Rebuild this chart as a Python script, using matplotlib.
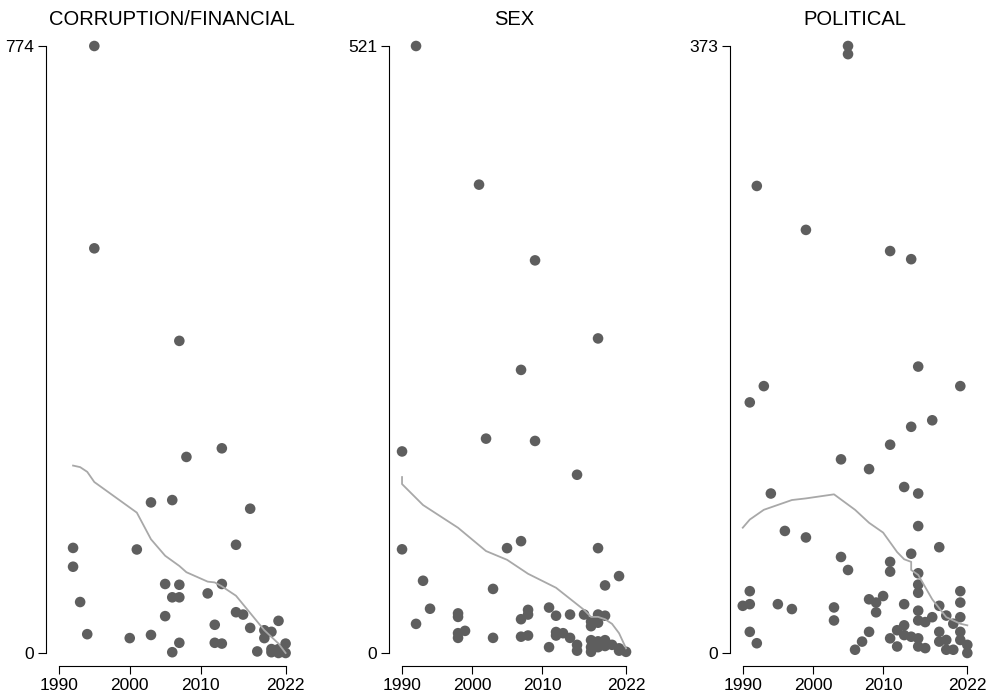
import numpy as np
import matplotlib
matplotlib.use("Agg")
from matplotlib import pyplot as plt

plt.rcParams['font.family'] = ['Liberation Sans', 'DejaVu Sans']

titles = ["CORRUPTION/FINANCIAL", "SEX", "POLITICAL"]
y_max = [774, 521, 373]
x_ticks = [1990, 2000, 2010, 2022]

# corruption / financial
corr_years = [1995, 1995, 2007, 2013, 2008, 2003, 2006, 2017, 2015, 1992,
              2001, 1992, 2005, 2007, 2013, 2011, 2006, 2007, 1993, 2015,
              2016, 2005, 2021, 2012, 2017, 2019, 2020, 2019, 1994, 2000,
              2003, 2007, 2012, 2013, 2006, 2018, 2020, 2021, 2022, 2021,
              2022, 2020]
corr_vals = [774, 516, 398, 261, 250, 192, 195, 184, 138, 134,
             132, 110, 88, 87, 88, 76, 71, 71, 65, 52,
             49, 47, 41, 36, 32, 29, 27, 19, 24, 19,
             23, 13, 13, 12, 1, 2, 5, 5, 12, 0,
             0, 1]

# sex
sex_years = [1992, 2001, 2009, 2018, 2007, 2002, 2009, 1990, 2015, 1990,
             2005, 2007, 2018, 1993, 2021, 2019, 2003, 1994, 1998, 1998,
             1992, 1998, 1998, 1999, 2003, 2007, 2008, 2008, 2007, 2008,
             2011, 2012, 2014, 2016, 2018, 2019, 2017, 2017, 2018, 2012,
             2013, 2012, 2014, 2011, 2015, 2015, 2017, 2017, 2017, 2018,
             2019, 2018, 2019, 2020, 2021, 2021, 2022]
sex_vals = [521, 402, 337, 270, 243, 184, 182, 173, 153, 89,
            90, 96, 90, 62, 66, 58, 55, 38, 34, 31,
            25, 17, 13, 19, 13, 29, 37, 33, 14, 15,
            39, 32, 33, 33, 33, 32, 27, 23, 26, 18,
            17, 15, 13, 5, 7, 2, 11, 5, 1, 10,
            11, 5, 6, 7, 4, 2, 1]

# political
pol_years = [2005, 2005, 1992, 1999, 2011, 2014, 2015, 1993, 2021, 1991,
             2017, 2014, 2011, 2004, 2008, 2013, 2015, 1994, 2015, 1996,
             1999, 2018, 2014, 2004, 2005, 2011, 2011, 2015, 2015, 2015,
             1991, 1990, 1991, 1995, 1997, 2003, 2003, 2008, 2009, 2010,
             2009, 2013, 2021, 2021, 2021, 2015, 2015, 2016, 2017, 2018,
             2019, 2020, 2021, 1991, 1992, 2006, 2007, 2008, 2011, 2012,
             2012, 2013, 2013, 2014, 2015, 2015, 2016, 2018, 2018, 2019,
             2019, 2020, 2021, 2022, 2022]
pol_vals = [373, 368, 287, 260, 247, 242, 176, 164, 164, 154,
            143, 139, 128, 119, 113, 102, 98, 98, 78, 75,
            71, 65, 61, 59, 51, 56, 50, 49, 42, 37,
            38, 29, 30, 30, 27, 28, 20, 33, 31, 35,
            25, 30, 38, 31, 22, 26, 20, 19, 22, 29,
            23, 18, 13, 13, 6, 2, 7, 13, 9, 14,
            4, 17, 11, 10, 9, 4, 3, 13, 7, 8,
            2, 2, 8, 5, 0]

# smoothed trend lines
corr_fit_x = [1992, 1993, 1994, 1995, 2001, 2003, 2005, 2007, 2008, 2011,
              2012, 2013, 2015, 2017, 2019, 2021, 2022]
corr_fit_y = [239, 237, 231, 218, 179, 145, 124, 111, 103, 91,
              90, 85, 73, 51, 29, 12, 0]
sex_fit_x = [1990, 1990, 1993, 1998, 2002, 2005, 2008, 2012, 2016, 2017,
             2018, 2019, 2020, 2021, 2022]
sex_fit_y = [151, 145, 127, 107.5, 87.5, 80, 68, 56, 37, 31,
             31, 29, 25, 17, 4]
pol_fit_x = [1990, 1991, 1993, 1997, 1999, 2003, 2006, 2008, 2010, 2011,
             2012, 2013, 2014, 2014, 2015, 2017, 2019, 2021, 2022]
pol_fit_y = [77, 82, 88, 94, 95, 97.5, 88, 80, 74, 68,
             62, 57.6, 56, 51, 48, 33, 22, 18, 17]

pts = [(corr_years, corr_vals), (sex_years, sex_vals), (pol_years, pol_vals)]
fits = [(corr_fit_x, corr_fit_y), (sex_fit_x, sex_fit_y), (pol_fit_x, pol_fit_y)]

W, H = 986, 696
fig = plt.figure(figsize=(W / 100, H / 100), dpi=100)

lefts = [46, 389.3, 730]
widths = [252, 249, 249.6]
ax_bot, ax_top = 665.7, 33.0   # pixel rows
zero_px, max_px = 653.0, 46.0

for i in range(3):
    ax = fig.add_axes([lefts[i] / W, (H - ax_bot) / H,
                       widths[i] / W, (ax_bot - ax_top) / H])
    m = y_max[i]
    per_px = m / (zero_px - max_px)
    ax.set_ylim((zero_px - ax_bot) * per_px, (zero_px - ax_top) * per_px)
    ax.set_xlim(1988.18, 2023.75)

    x, y = pts[i]
    ax.scatter(x, y, s=58, color='#5e5e5e', edgecolors='none', zorder=2)
    fx, fy = fits[i]
    ax.plot(fx, fy, color='#a8a8a8', lw=1.3, zorder=3)

    for s in ['top', 'right']:
        ax.spines[s].set_visible(False)
    ax.spines['left'].set_bounds(0, m)
    ax.spines['bottom'].set_bounds(1990, 2022)
    ax.spines['left'].set_linewidth(0.8)
    ax.spines['bottom'].set_linewidth(0.8)
    ax.set_yticks([0, m])
    ax.set_xticks(x_ticks)
    ax.tick_params(axis='both', direction='out', length=5.5, width=0.8,
                   labelsize=12.5, pad=3)
    ax.set_title(titles[i], fontsize=14.5, pad=6)

fig.savefig("out.png", dpi=100)
